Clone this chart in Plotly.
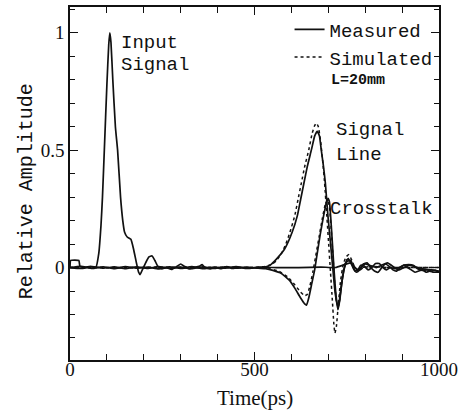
import plotly.graph_objects as go

# Time (ps) / relative amplitude samples for each trace, L = 20 mm line
input_measured = [
    (0, 0.0), (2, 0.03), (24, 0.03), (27, 0.005), (40, 0.0), (55, 0.005), (70, 0.0),
    (78, 0.06), (84, 0.18), (88, 0.3), (93, 0.5), (100, 0.78), (105, 0.95), (108, 1.0),
    (111, 0.96), (116, 0.8), (123, 0.6), (129, 0.5), (137, 0.3), (143, 0.2), (148, 0.15),
    (155, 0.13), (165, 0.12), (172, 0.08), (180, 0.02), (186, -0.02), (190, -0.03),
    (196, -0.01), (205, 0.02), (214, 0.045), (222, 0.05), (230, 0.03), (238, 0.005),
    (248, -0.005), (262, 0.0), (275, -0.008), (290, 0.005), (300, 0.015), (310, 0.005),
    (322, -0.005), (335, 0.0), (350, 0.005), (358, 0.012), (366, 0.0), (380, -0.006),
    (395, 0.0), (410, -0.005), (425, 0.004), (440, -0.004), (455, 0.0), (470, 0.0),
    (490, -0.002), (510, 0.0), (560, 0.0), (620, 0.0), (680, 0.002), (720, 0.0),
    (740, 0.01), (760, 0.02), (780, -0.01), (800, 0.015), (830, 0.0), (860, 0.02),
    (890, -0.01), (920, 0.01), (950, -0.005), (980, -0.01), (1000, -0.015),
]

signal_measured = [
    (0, 0.0), (30, 0.005), (60, -0.004), (90, 0.003), (120, -0.005), (150, 0.004),
    (180, -0.003), (210, 0.002), (240, -0.006), (270, 0.003), (300, -0.004), (330, 0.004),
    (360, -0.005), (390, 0.002), (420, -0.003), (450, 0.004), (480, -0.004), (510, 0.002),
    (530, 0.003), (542, 0.01), (560, 0.037), (582, 0.08), (602, 0.15), (616, 0.22),
    (625, 0.29), (634, 0.36), (643, 0.43), (654, 0.5), (663, 0.56), (670, 0.58),
    (676, 0.56), (681, 0.5), (687, 0.43), (692, 0.36), (699, 0.22), (705, 0.12),
    (712, 0.0), (718, -0.1), (723, -0.15), (727, -0.17), (732, -0.12), (738, -0.05),
    (745, 0.01), (752, 0.035), (760, 0.03), (768, 0.0), (776, -0.02), (785, -0.01),
    (795, 0.015), (805, 0.02), (815, 0.0), (825, -0.015), (835, -0.02), (845, 0.0),
    (855, 0.015), (865, 0.005), (875, -0.01), (885, -0.015), (895, 0.0), (905, 0.01),
    (915, 0.0), (925, -0.01), (935, -0.02), (945, -0.015), (955, -0.01), (965, -0.02),
    (975, -0.015), (985, -0.02), (1000, -0.02),
]

signal_simulated = [
    (0, 0.0), (500, 0.0), (530, 0.005), (548, 0.015), (560, 0.03), (573, 0.06),
    (585, 0.1), (596, 0.15), (609, 0.22), (618, 0.29), (627, 0.36), (636, 0.43),
    (647, 0.5), (656, 0.57), (663, 0.605), (668, 0.615), (673, 0.6), (679, 0.54),
    (685, 0.45), (690, 0.36), (696, 0.22), (701, 0.1), (706, -0.02), (711, -0.14),
    (715, -0.24), (718, -0.28), (722, -0.25), (727, -0.16), (733, -0.06), (740, 0.01),
    (748, 0.045), (756, 0.055), (764, 0.03), (772, 0.0), (782, -0.015), (795, 0.0),
    (820, 0.005), (860, 0.0), (900, 0.0), (950, 0.0), (1000, 0.0),
]

crosstalk_measured = [
    (0, 0.0), (30, -0.004), (60, 0.004), (90, -0.003), (120, 0.003), (150, -0.005),
    (180, 0.003), (210, -0.004), (240, 0.004), (270, -0.003), (300, 0.002), (330, -0.005),
    (360, 0.003), (390, -0.004), (420, 0.003), (450, -0.003), (480, 0.002), (510, -0.003),
    (530, -0.005), (550, -0.012), (573, -0.025), (595, -0.055), (610, -0.09), (625, -0.13),
    (636, -0.155), (641, -0.16), (647, -0.13), (655, -0.07), (663, -0.01), (670, 0.06),
    (678, 0.14), (686, 0.21), (694, 0.27), (699, 0.295), (703, 0.28), (708, 0.18),
    (712, 0.08), (716, -0.02), (721, -0.12), (726, -0.18), (731, -0.14), (737, -0.06),
    (744, 0.0), (750, 0.025), (757, 0.03), (764, 0.01), (772, -0.015), (780, -0.01),
    (788, 0.01), (798, 0.005), (808, -0.01), (818, 0.0), (828, 0.017), (838, 0.017),
    (848, 0.0), (858, -0.01), (868, 0.0), (880, -0.005), (892, 0.0), (905, 0.01),
    (918, 0.012), (930, 0.01), (942, -0.005), (955, -0.012), (968, -0.01), (980, -0.015),
    (990, -0.012), (1000, -0.02),
]

crosstalk_simulated = [
    (0, 0.0), (500, 0.0), (540, -0.005), (565, -0.015), (590, -0.04), (610, -0.075),
    (625, -0.105), (636, -0.12), (643, -0.115), (650, -0.08), (658, -0.02), (666, 0.05),
    (675, 0.13), (684, 0.21), (692, 0.27), (698, 0.29), (703, 0.26), (708, 0.16),
    (713, 0.04), (718, -0.08), (723, -0.15), (728, -0.16), (734, -0.09), (741, -0.01),
    (749, 0.03), (757, 0.04), (766, 0.015), (776, -0.01), (790, 0.0), (820, 0.005),
    (860, 0.0), (1000, 0.0),
]

x_tick_values = [0, 500, 1000]
x_tick_labels = ["0", "500", "1000"]
y_tick_values = [0, 0.5, 1]
y_tick_labels = ["0", "0.5", "1"]

INK = "#111111"
MONO = "Liberation Mono, Courier New, monospace"
SERIF = "Liberation Serif, Times New Roman, serif"


def split(pairs):
    return [p[0] for p in pairs], [p[1] for p in pairs]


fig = go.Figure()

traces = [
    (input_measured, "Measured", False, "solid", 1.7),
    (crosstalk_simulated, "Simulated", False, "dot", 1.5),
    (signal_simulated, "Simulated", True, "dot", 1.5),
    (crosstalk_measured, "Measured", False, "solid", 1.7),
    (signal_measured, "Measured", True, "solid", 1.7),
]
for pairs, name, show, dash, width in traces:
    t, v = split(pairs)
    fig.add_trace(go.Scatter(
        x=t, y=v, mode="lines", name=name, showlegend=show,
        line=dict(color=INK, width=width, dash=dash, shape="spline", smoothing=0.4),
    ))

# legend order: Measured first
fig.data[4].legendrank = 1
fig.data[2].legendrank = 2

axis_common = dict(
    showline=True, linecolor=INK, linewidth=1.6, mirror="ticks",
    ticks="inside", tickcolor=INK, tickwidth=1.2, showgrid=False, zeroline=False,
    tickfont=dict(family=SERIF, size=19, color=INK),
)

fig.update_layout(
    width=463, height=411,
    margin=dict(l=70, r=21, t=5, b=51),
    paper_bgcolor="white", plot_bgcolor="white",
    xaxis=dict(
        range=[0, 1000], tickmode="array", tickvals=x_tick_values, ticktext=x_tick_labels,
        ticklen=8, ticklabelstandoff=-9,
        minor=dict(dtick=100, ticks="inside", ticklen=6, tickcolor=INK, tickwidth=1.2),
        **axis_common,
    ),
    yaxis=dict(
        range=[-0.394, 1.11], tickmode="array", tickvals=y_tick_values, ticktext=y_tick_labels,
        ticklen=8, minor=dict(dtick=0.1, ticks="inside", ticklen=5, tickcolor=INK, tickwidth=1.2),
        **axis_common,
    ),
    legend=dict(
        x=0.595, y=0.99, xanchor="left", yanchor="top",
        bgcolor="rgba(0,0,0,0)", borderwidth=0,
        font=dict(family=MONO, size=19, color=INK),
        itemwidth=30, tracegroupgap=0,
    ),
    showlegend=True,
)

notes = [
    ("Input", 134, 0.958, 19, False),
    ("Signal", 134, 0.864, 19, False),
    ("Signal<br>Line", 715, 0.532, 19, False),
    ("Crosstalk", 699, 0.250, 19, False),
    ("L=20mm", 701, 0.795, 15, True),
]
for text, x, y, size, bold in notes:
    fig.add_annotation(
        x=x, y=y, xref="x", yref="y", text=f"<b>{text}</b>" if bold else text,
        showarrow=False, xanchor="left", yanchor="middle", align="left",
        font=dict(family=MONO, size=size, color=INK),
    )

fig.add_annotation(
    x=0.5, y=-0.107, xref="paper", yref="paper", text="Time(ps)", showarrow=False,
    xanchor="center", yanchor="middle", font=dict(family=SERIF, size=21, color=INK),
)
fig.add_annotation(
    x=-0.118, y=0.479, xref="paper", yref="paper", text="Relative Amplitude",
    showarrow=False, textangle=-90, xanchor="center", yanchor="middle",
    font=dict(family=MONO, size=20, color=INK),
)

fig.write_html("out.html")
